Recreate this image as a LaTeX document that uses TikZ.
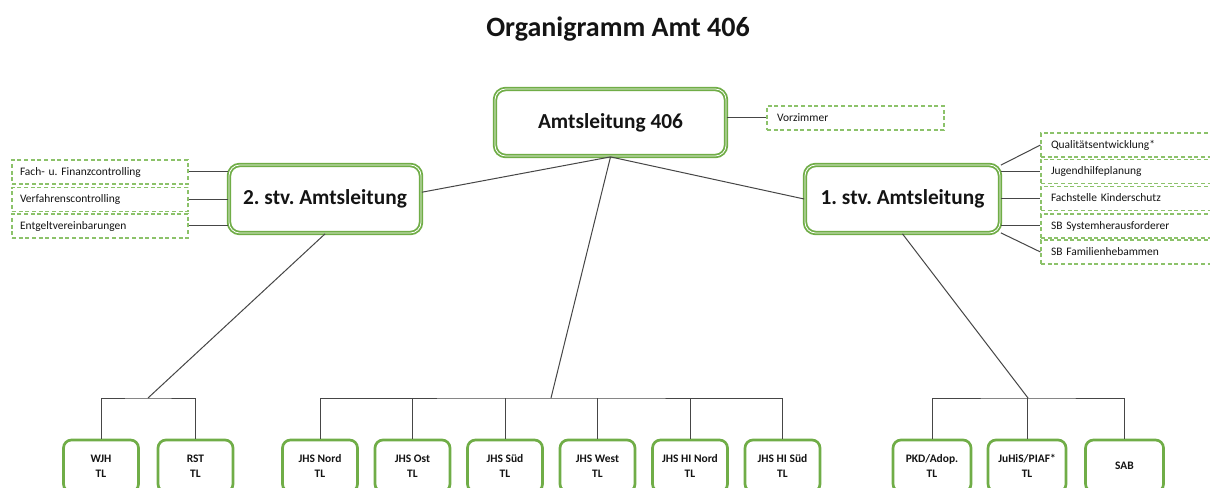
\documentclass[tikz,border=0pt]{standalone}
\usepackage{fontspec}
\setmainfont{Carlito}
\frenchspacing
\newdimen\upx
\upx=0.75pt
\definecolor{boxgreen}{RGB}{112,173,71}
\definecolor{dashgreen}{RGB}{140,194,106}
\definecolor{linegray}{RGB}{70,70,70}
\definecolor{txt}{RGB}{20,20,20}
\tikzset{
  mainbox/.style={draw=boxgreen, line width=1.35pt, double=white, double distance=0.6pt,
    rounded corners=8pt, fill=white, text=txt, font=\fontsize{16}{19}\selectfont\bfseries,
    text height=1.1em, text depth=0.2em, inner sep=0pt},
  dashbox/.style={draw=dashgreen, line width=0.8pt, dash pattern=on 3pt off 2pt,
    fill=white, text=txt, font=\fontsize{8.6}{10}\selectfont, align=left,
    minimum height=24\upx, inner ysep=0pt, text height=0.7em, text depth=0.2em},
  unitbox/.style={draw=boxgreen, line width=2pt, rounded corners=6pt, fill=white,
    text=txt, font=\fontsize{8.6}{11.3}\selectfont\bfseries, align=center,
    minimum width=75\upx, minimum height=52\upx, inner sep=0pt},
  conn/.style={draw=linegray, line width=0.75pt},
  titletext/.style={text=txt, font=\fontsize{21}{25}\selectfont\bfseries, inner sep=0pt}
}
\begin{document}
\begin{tikzpicture}[x=0.75pt, y=-0.75pt]
\useasboundingbox (0,0) rectangle (1210,488);
\fill[white] (0,0) rectangle (1210,488);
\clip (0,0) rectangle (1210,488);

\node[titletext, anchor=base] (title) at (618,37) {Organigramm Amt 406};

% main boxes
\node[mainbox, minimum width=231\upx, minimum height=67\upx] (al) at (610.5,122.5) {Amtsleitung 406};
\node[mainbox, minimum width=192\upx, minimum height=68\upx] (s2) at (325,199) {2. stv. Amtsleitung};
\node[mainbox, minimum width=195\upx, minimum height=68\upx] (s1) at (902.5,199) {1. stv. Amtsleitung};

% staff boxes
\node[dashbox, text width=157\upx, inner xsep=10\upx] (vz) at (855.5,118) {Vorzimmer};
\node[dashbox, text width=160\upx, inner xsep=8\upx] (l1) at (100,172) {Fach- u. Finanzcontrolling};
\node[dashbox, text width=160\upx, inner xsep=8\upx] (l2) at (100,199.5) {Verfahrenscontrolling};
\node[dashbox, text width=160\upx, inner xsep=8\upx] (l3) at (100,226) {Entgeltvereinbarungen};
\node[dashbox, text width=158\upx, inner xsep=10\upx] (r1) at (1130,145) {Qualitätsentwicklung*};
\node[dashbox, text width=158\upx, inner xsep=10\upx] (r2) at (1130,171.5) {Jugendhilfeplanung};
\node[dashbox, text width=158\upx, inner xsep=10\upx] (r3) at (1130,198.5) {Fachstelle Kinderschutz};
\node[dashbox, text width=158\upx, inner xsep=10\upx] (r4) at (1130,226) {SB Systemherausforderer};
\node[dashbox, text width=158\upx, inner xsep=10\upx] (r5) at (1130,252) {SB Familienhebammen};

% unit boxes
\node[unitbox] (wjh) at (101,466) {WJH\\TL};
\node[unitbox] (rst) at (195.5,466) {RST\\TL};
\node[unitbox] (n1) at (320,466) {JHS Nord\\TL};
\node[unitbox] (n2) at (412.5,466) {JHS Ost\\TL};
\node[unitbox] (n3) at (505,466) {JHS Süd\\TL};
\node[unitbox] (n4) at (597.5,466) {JHS West\\TL};
\node[unitbox] (n5) at (690,466) {JHS HI Nord\\TL};
\node[unitbox] (n6) at (782.5,466) {JHS HI Süd\\TL};
\node[unitbox, minimum width=78\upx] (pkd) at (932,466) {PKD/Adop.\\TL};
\node[unitbox, minimum width=78\upx] (juh) at (1027,466) {JuHiS/PIAF*\\TL};
\node[unitbox, minimum width=78\upx] (sab) at (1124.5,466) {SAB};

% bus coordinates
\coordinate (lb) at (148,398);
\coordinate (jb) at (551,398);
\coordinate (rb) at (1028,398);

% connectors
\draw[conn] (al.east |- vz.west) -- (vz.west);
\draw[conn] (s2.west |- l1.east) -- (l1.east);
\draw[conn] (s2.west |- l2.east) -- (l2.east);
\draw[conn] (s2.west |- l3.east) -- (l3.east);
\draw[conn] (s1.19) -- (r1.west);
\draw[conn] (s1.east |- r2.west) -- (r2.west);
\draw[conn] (s1.east |- r3.west) -- (r3.west);
\draw[conn] (s1.east |- r4.west) -- (r4.west);
\draw[conn] (s1.-19) -- (r5.west);

\draw[conn] (al.south) -- (s2.4);
\draw[conn] (al.south) -- (s1.west);
\draw[conn] (al.south) -- (jb);
\draw[conn] (s2.south) -- (lb);
\draw[conn] (s1.south) -- (rb);

\draw[conn] (wjh.north) |- (lb) -| (rst.north);
\draw[conn] (n1.north) |- (jb) -| (n6.north);
\foreach \n in {n2,n3,n4,n5} \draw[conn] (\n.north) -- (\n.north |- jb);
\draw[conn] (pkd.north) |- (rb) -| (sab.north);
\draw[conn] (juh.north) -- (juh.north |- rb);
\end{tikzpicture}
\end{document}
